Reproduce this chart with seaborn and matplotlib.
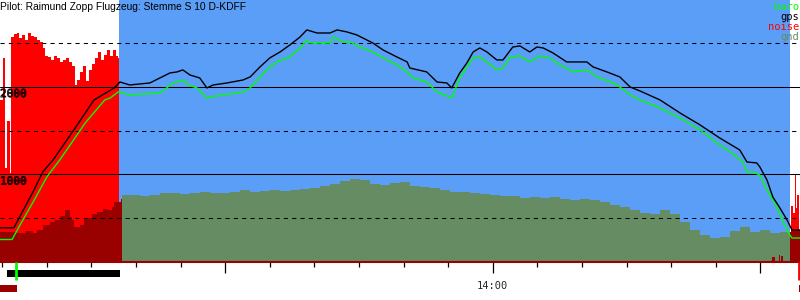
import numpy as np
import pandas as pd
import matplotlib
matplotlib.use("Agg")
import matplotlib.pyplot as plt
import seaborn as sns
from matplotlib import patheffects as pe
from matplotlib.ticker import MultipleLocator, FixedLocator

# ---------------- data (time in minutes after 12:00, altitude in m) ----------------
gps_t = [9.5, 12.6, 16.9, 19.1, 21.4, 25.9, 30.6, 35.1, 36.4, 38.6, 43.1, 47.6, 49.2, 50.5, 52.1,
         54.3, 55.9, 57.3, 60.4, 64.0, 65.6, 67.8, 70.0, 72.3, 74.5, 76.8, 78.3, 80.6, 83.5, 85.1,
         87.3, 89.5, 93.1, 95.4, 98.5, 100.8, 101.4, 105.2, 107.5, 109.7, 110.8, 112.6, 114.2, 115.6,
         117.1, 118.7, 120.9, 122.3, 124.5, 126.1, 128.3, 129.9, 131.3, 133.5, 136.6, 141.1, 142.5,
         145.6, 148.5, 150.8, 153.0, 157.5, 162.0, 166.5, 170.9, 175.4, 177.0, 179.2, 179.9, 181.5,
         182.8, 184.4, 186.0, 187.1, 188.9]
gps_alt = [390, 390, 800, 1029, 1166, 1497, 1852, 1989, 2057, 2023, 2046, 2160, 2172, 2195, 2137,
           2103, 1989, 2023, 2046, 2080, 2115, 2229, 2332, 2400, 2480, 2572, 2652, 2617, 2617, 2652,
           2629, 2595, 2503, 2423, 2343, 2286, 2217, 2172, 2057, 2046, 1989, 2160, 2275, 2400,
           2446, 2400, 2309, 2309, 2457, 2469, 2400, 2457, 2446, 2389, 2286, 2286, 2229,
           2172, 2115, 2000, 1955, 1852, 1703, 1566, 1417, 1280, 1143, 1132, 1086, 937,
           743, 617, 480, 366, 366]

baro_t = [9.5, 12.2, 14.0, 17.3, 20.0, 22.9, 26.3, 28.6, 33.0, 34.2, 36.0, 38.6, 45.4, 48.3, 50.5,
          51.7, 53.7, 55.9, 56.6, 64.0, 65.6, 67.8, 70.0, 71.6, 74.5, 76.8, 78.3, 79.0, 83.5, 84.2,
          86.4, 88.0, 90.2, 93.1, 95.4, 98.5, 100.8, 102.1, 105.2, 107.5, 110.4, 110.8, 112.6, 114.2,
          115.6, 117.1, 118.7, 120.9, 122.3, 123.9, 126.1, 128.3, 130.6, 132.8, 135.1, 138.0, 141.1,
          143.4, 147.0, 148.5, 150.8, 153.0, 157.5, 162.0, 166.5, 170.9, 172.7, 176.1, 177.0, 178.3,
          179.9, 181.5, 183.7, 185.1, 186.6, 187.1, 188.9]
baro_alt = [257, 257, 423, 720, 972, 1166, 1417, 1589, 1852, 1874, 1943, 1909, 1932, 2046, 2080,
            2023, 1989, 1874, 1886, 1943, 1989, 2115, 2229, 2286, 2343, 2446, 2537, 2503, 2503, 2572,
            2515, 2515, 2457, 2400, 2332, 2252, 2172, 2103, 2057, 1943, 1886, 1874, 2103, 2229,
            2332, 2343, 2286, 2195, 2217, 2343, 2355, 2286, 2355, 2332, 2252, 2172, 2195,
            2115, 2046, 2000, 1909, 1852, 1760, 1646, 1509, 1337, 1280, 1143, 1029, 1029,
            994, 823, 629, 457, 309, 274, 274]

noise_t = [9.5, 9.95, 10.17, 10.62, 11.07, 11.52, 11.74, 11.97, 12.64, 13.31, 13.76, 14.43, 15.11,
           15.78, 16.45, 17.12, 17.80, 18.47, 19.14, 19.59, 20.26, 20.93, 21.61, 22.28, 22.95, 23.63,
           24.30, 24.97, 25.64, 26.32, 26.76, 27.44, 28.11, 28.78, 29.46, 30.13, 30.80, 31.47, 32.15,
           32.82, 33.49, 34.16, 34.84, 35.51, 35.96, 36.25, 186.63, 186.85, 187.30, 187.75, 187.97,
           188.20, 188.64, 188.9]
noise_v = [1852, 1852, 2332, 1074, 1612, 1612, 1017, 2572, 2606, 2617, 2560, 2595, 2537,
           2617, 2583, 2572, 2537, 2515, 2446, 2355, 2343, 2309, 2355, 2332, 2286, 2309,
           2332, 2286, 2240, 2023, 2080, 2172, 2240, 2069, 2195, 2263, 2332, 2400, 2309,
           2366, 2423, 2355, 2423, 2355, 2332, 0, 0, 640, 560, 1000, 620,
           760, 300, 300]

# weak noise blips just before landing (drawn dark red near the baseline)
lownoise_t = [182.7, 183.2, 184.1, 184.4, 184.6, 185.1]
lownoise_v = [57, 0, 80, 0, 70, 0]

gnd_t = [9.5, 12.86, 15.33, 16.9, 17.8, 19.14, 20.71, 21.83, 22.95, 24.07, 25.19, 25.64, 26.09,
         27.44, 28.33, 30.13, 31.25, 32.59, 33.49, 34.61, 35.06, 36.63, 36.85, 38.65, 40.89, 43.13,
         45.37, 47.62, 49.86, 52.1, 54.34, 56.59, 58.83, 61.07, 63.31, 65.55, 67.8, 70.04, 72.28,
         74.52, 76.76, 79.01, 81.25, 83.49, 85.73, 87.97, 90.22, 92.46, 94.70, 96.94, 99.19, 101.43,
         103.67, 105.91, 108.15, 110.40, 112.64, 114.88, 117.12, 119.36, 121.61, 123.85, 126.09,
         128.33, 130.58, 132.82, 135.06, 137.30, 139.54, 141.79, 144.03, 146.27, 148.51, 150.76,
         153.0, 155.24, 157.48, 159.72, 161.97, 164.21, 166.45, 168.69, 170.94, 173.18, 175.42,
         177.66, 179.91, 182.15, 184.39, 186.63, 186.85, 188.9]
gnd_alt = [343, 331, 354, 331, 366, 423, 457, 480, 526, 594, 514, 480, 400,
           423, 503, 549, 571, 606, 594, 629, 686, 720, 766, 766, 754, 766,
           789, 789, 777, 789, 800, 789, 789, 800, 823, 800, 811, 823, 811,
           823, 834, 846, 869, 891, 926, 949, 937, 891, 880, 903, 914, 869,
           857, 846, 823, 800, 800, 789, 777, 766, 754, 754, 731,
           743, 731, 743, 720, 709, 720, 709, 686, 651, 629, 594,
           560, 549, 594, 549, 457, 366, 309, 274, 286, 354, 400,
           343, 366, 331, 343, 343, 366, 366]

engine_off = (36.25, 186.63)          # gliding phase (blue background)
gnd_engine_on = [(9.5, 36.85), (186.63, 188.9)]
motor_bar = [(11.1, 36.4)]            # black bar under the time axis
ground_bar = [(9.5, 13.3), (188.6, 188.9)]
takeoff_t = 13.15
landing_t = 188.7
hour_ticks = [60, 120, 180]
hour_labels = ["", "14:00", ""]
ref_solid = [1000, 2000]
ref_dashed = [500, 1500, 2500]
alt_labels = ["1000", "2000"]
title = "Pilot: Raimund Zopp Flugzeug: Stemme S 10 D-KDFF"
legend_items = ["baro", "gps", "noise", "gnd"]

# ---------------- style ----------------
BLUE = "#5b9ef7"
RED = "#ff0000"
DARKRED = "#990000"
GND = "#658c62"
GREEN = "#00ff00"
legend_colors = [GREEN, "black", RED, GND]

sns.set_style("ticks")
plt.rcParams["font.family"] = ["DejaVu Sans"]

fig = plt.figure(figsize=(8, 3), dpi=100)
ax = fig.add_axes([0, 38 / 300, 1, 262 / 300])
ax.set_facecolor("white")
xlim = (9.5, 188.9)
ax.set_xlim(*xlim)
ax.set_ylim(0, 2994)

# gliding background
ax.axvspan(*engine_off, color=BLUE, lw=0, zorder=0)

# noise
ax.fill_between(noise_t, 0, noise_v, step="post", color=RED, lw=0, zorder=1)

# ground elevation (dark red while motor running)
gt = np.array(gnd_t)
ga = np.array(gnd_alt)
ax.fill_between(gt, 0, ga, step="post", color=GND, lw=0, zorder=2)
for a, b in gnd_engine_on:
    m = (gt >= a) & (gt <= b)
    ax.fill_between(gt[m], 0, ga[m], step="post", color=DARKRED, lw=0, zorder=2.1)
ax.fill_between(lownoise_t, 0, lownoise_v, step="post", color=DARKRED, lw=0, zorder=2.2)

# reference lines
for v in ref_solid:
    ax.axhline(v, color="black", lw=0.75, zorder=3)
for v in ref_dashed:
    ax.axhline(v, color="black", lw=0.75, ls=(0, (4, 4)), zorder=3)

# altitude lines
gps_df = pd.DataFrame({"t": gps_t, "alt": gps_alt})
baro_df = pd.DataFrame({"t": baro_t, "alt": baro_alt})
sns.lineplot(data=baro_df, x="t", y="alt", color=GREEN, lw=1.0, ax=ax, zorder=4,
             estimator=None, sort=False)
sns.lineplot(data=gps_df, x="t", y="alt", color="black", lw=1.0, ax=ax, zorder=4.1,
             estimator=None, sort=False)

# axes cosmetics
for s in ["left", "top", "right"]:
    ax.spines[s].set_visible(False)
ax.spines["bottom"].set_color(DARKRED)
ax.spines["bottom"].set_linewidth(1.5)
ax.set_yticks([])
ax.set_xlabel("")
ax.set_ylabel("")
ax.xaxis.set_major_locator(FixedLocator(hour_ticks))
ax.set_xticklabels(hour_labels)
ax.xaxis.set_minor_locator(MultipleLocator(10))
ax.tick_params(axis="x", which="both", bottom=True, top=False)
ax.tick_params(axis="x", which="major", length=8, width=0.9, color="black",
               direction="out", pad=6, labelsize=7.5)
ax.tick_params(axis="x", which="minor", length=3.8, width=0.9, color="black", direction="out")
for lab in ax.get_xticklabels():
    lab.set_fontfamily("DejaVu Sans Mono")

# altitude labels (hollow digits)
for v, txt in zip(ref_solid, alt_labels):
    ax.annotate(txt, xy=(0, v), xycoords=("axes fraction", "data"), xytext=(0, -1.5),
                textcoords="offset points", ha="left", va="top", fontsize=8,
                family="DejaVu Sans Mono", color="none", zorder=6,
                path_effects=[pe.Stroke(linewidth=0.6, foreground="black")])

# legend as coloured words top right
for i, (txt, col) in enumerate(zip(legend_items, legend_colors)):
    ax.text(0.999, 1 - (7 + 10 * i) / 262, txt, transform=ax.transAxes, ha="right",
            va="center", fontsize=7.5, family="DejaVu Sans Mono", color=col, zorder=6)

# title
ax.text(0.0, 1 - 6.5 / 262, title, transform=ax.transAxes, ha="left", va="center",
        fontsize=7.4, family="Liberation Sans", color="black", zorder=6)

# timeline strip below the axis
ax2 = fig.add_axes([0, 0, 1, 38 / 300])
ax2.set_xlim(*xlim)
ax2.set_ylim(0, 38)
ax2.axis("off")
ax2.broken_barh([(a, b - a) for a, b in motor_bar], (23, 7), color="black", lw=0)
ax2.broken_barh([(a, b - a) for a, b in ground_bar], (8, 7), color=DARKRED, lw=0)
ax2.vlines([takeoff_t], 20, 38, color=GREEN, lw=2)
ax2.vlines([landing_t], 20, 38, color=RED, lw=2)

fig.savefig("out.png", dpi=100)
